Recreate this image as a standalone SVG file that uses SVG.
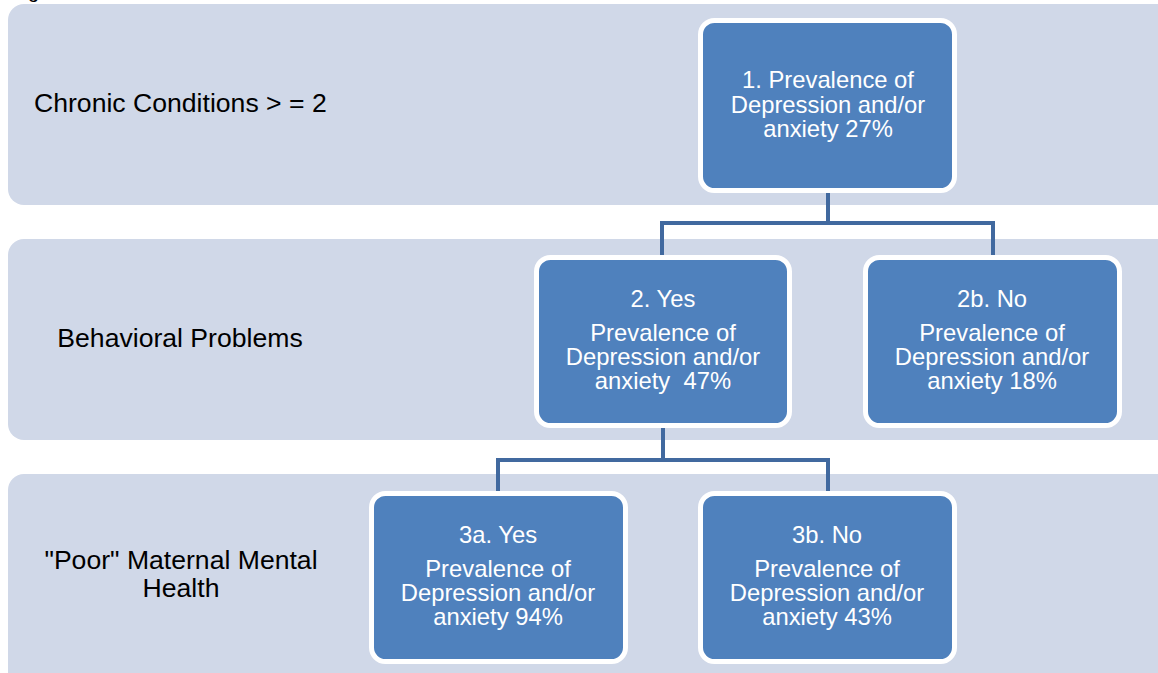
<svg xmlns="http://www.w3.org/2000/svg" width="1158" height="673" viewBox="0 0 1158 673">
<style>
.band{fill:#D0D8E8;}
.node{fill:#4F81BD;stroke:#FFFFFF;stroke-width:5;}
.nt{font-family:"Liberation Sans",Arial,sans-serif;font-size:23.8px;fill:#FFFFFF;text-anchor:middle;}
.lbl{font-family:"Liberation Sans",Arial,sans-serif;font-size:26.6px;fill:#000000;}
.conn{fill:none;stroke:#41699F;stroke-width:4;}
</style>
<rect width="1158" height="673" fill="#FFFFFF"/>
<text x="28" y="-2" class="lbl" style="font-size:20px">g</text>
<g id="bands">
<rect class="band" x="8" y="4" width="1165" height="201" rx="16"/>
<rect class="band" x="8" y="239" width="1165" height="201" rx="16"/>
<rect class="band" x="8" y="474" width="1165" height="215" rx="16"/>
</g>
<g id="labels">
<text class="lbl" x="34" y="112">Chronic Conditions &gt; = 2</text>
<text class="lbl" x="180" y="347" text-anchor="middle">Behavioral Problems</text>
<text class="lbl" x="181" y="569" text-anchor="middle">"Poor" Maternal Mental</text>
<text class="lbl" x="181" y="597" text-anchor="middle">Health</text>
</g>
<g id="connectors">
<path class="conn" d="M828,190 V223 M662,259 V223 H993 V259"/>
<path class="conn" d="M663,426 V460 M498,493 V460 H828 V493"/>
</g>
<g id="n1">
<rect class="node" x="700.5" y="20.5" width="254" height="170" rx="14"/>
<text class="nt" x="828" y="88">1. Prevalence of</text>
<text class="nt" x="828" y="113">Depression and/or</text>
<text class="nt" x="828" y="137">anxiety 27%</text>
</g>
<g id="n2">
<rect class="node" x="536.5" y="257.5" width="253" height="168" rx="14"/>
<text class="nt" x="663" y="307">2. Yes</text>
<text class="nt" x="663" y="341">Prevalence of</text>
<text class="nt" x="663" y="365">Depression and/or</text>
<text class="nt" x="663" y="389" xml:space="preserve">anxiety  47%</text>
</g>
<g id="n2b">
<rect class="node" x="865.5" y="257.5" width="254" height="168" rx="14"/>
<text class="nt" x="992" y="307">2b. No</text>
<text class="nt" x="992" y="341">Prevalence of</text>
<text class="nt" x="992" y="365">Depression and/or</text>
<text class="nt" x="992" y="389">anxiety 18%</text>
</g>
<g id="n3a">
<rect class="node" x="371.5" y="493.5" width="254" height="168" rx="14"/>
<text class="nt" x="498" y="543">3a. Yes</text>
<text class="nt" x="498" y="577">Prevalence of</text>
<text class="nt" x="498" y="601">Depression and/or</text>
<text class="nt" x="498" y="625">anxiety 94%</text>
</g>
<g id="n3b">
<rect class="node" x="700.5" y="493.5" width="254" height="168" rx="14"/>
<text class="nt" x="827" y="543">3b. No</text>
<text class="nt" x="827" y="577">Prevalence of</text>
<text class="nt" x="827" y="601">Depression and/or</text>
<text class="nt" x="827" y="625">anxiety 43%</text>
</g>
</svg>
